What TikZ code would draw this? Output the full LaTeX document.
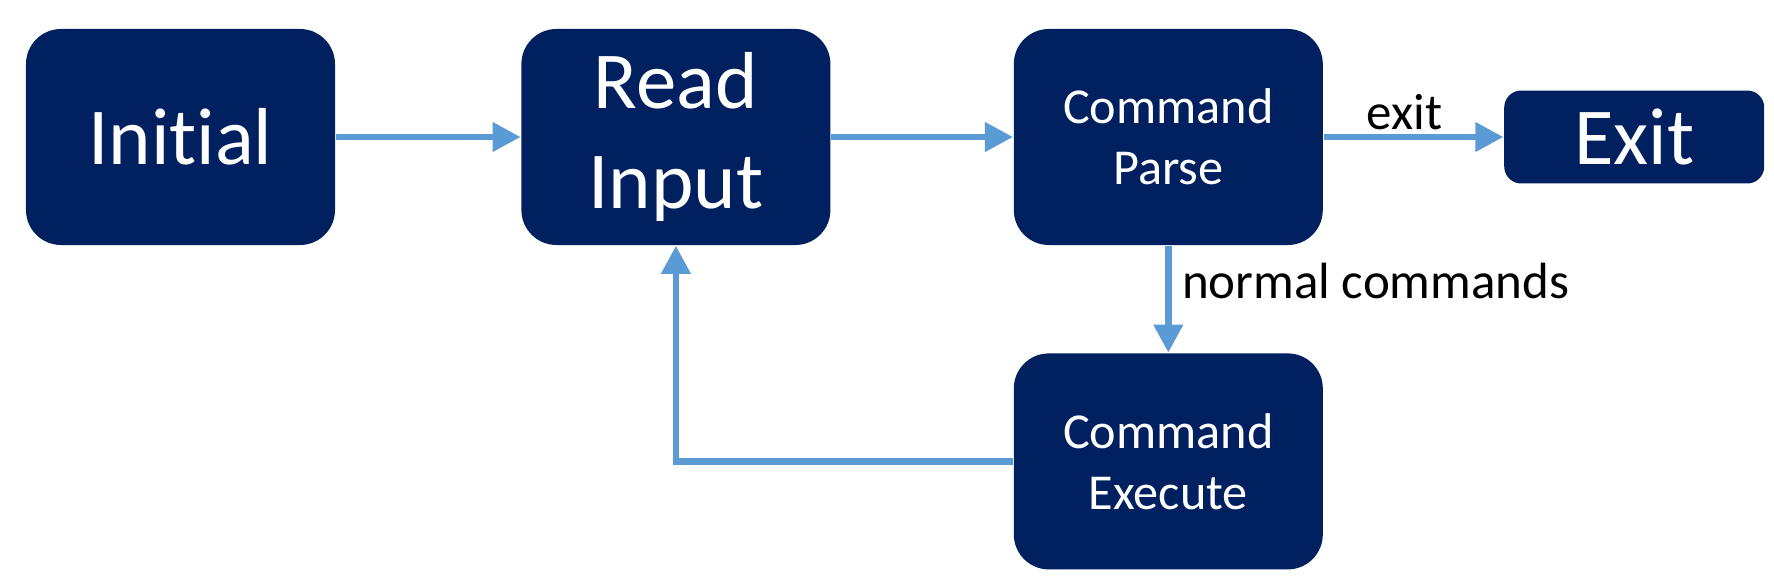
\documentclass[tikz,border=0pt]{standalone}
\usepackage{fontspec}
\setmainfont[Ligatures=NoCommon]{Carlito}
\usetikzlibrary{arrows.meta,positioning}
\definecolor{navy}{HTML}{002060}
\definecolor{flowblue}{HTML}{5B9BD5}
\tikzset{
  block/.style={fill=navy, text=white, rounded corners=0.35cm, inner sep=0pt, minimum width=3.09cm, minimum height=2.16cm, align=center},
  big/.style={block, font=\fontsize{23}{28.5}\selectfont},
  small/.style={block, font=\fontsize{14.3}{17.4}\selectfont},
  flow/.style={draw=flowblue, line width=1.9pt, -{Triangle[length=8pt, width=8pt]}},
  tag/.style={font=\fontsize{14.5}{17.4}\selectfont, inner sep=3pt}
}

\begin{document}
\begin{tikzpicture}
  \useasboundingbox (0,0) rectangle (17.74,-5.83);
  \node[big] (init) at (1.805,-1.37) {Initial};
  \node[big, right=1.85cm of init] (read) {Read\\Input};
  \node[small, right=1.82cm of read] (parse) {Command\\Parse};
  \node[big, right=1.80cm of parse, rounded corners=0.17cm, minimum width=2.6cm, minimum height=0.93cm] (exitbox) {Exit};
  \node[small, below=1.07cm of parse] (exec) {Command\\Execute};
  \draw[flow] (init) -- (read);
  \draw[flow] (read) -- (parse);
  \draw[flow] (parse.east) -- node[tag, above, inner sep=1pt, pos=0.45] {exit} (exitbox.west);
  \draw[flow] (parse) -- node[tag, right, pos=0.33] {normal commands} (exec);
  \draw[flow] (exec.west) -| (read.south);
\end{tikzpicture}
\end{document}
